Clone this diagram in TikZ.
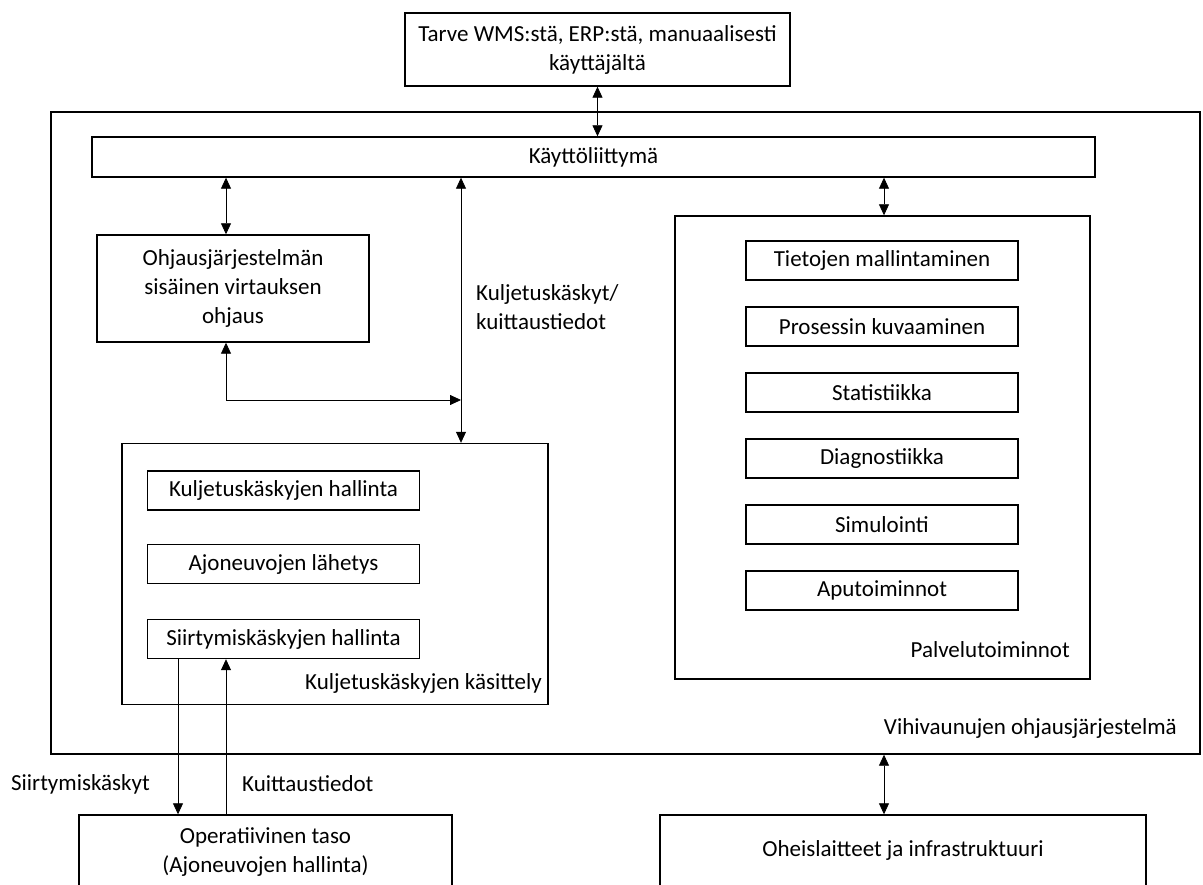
\documentclass[tikz,border=0pt]{standalone}
\usepackage{fontspec}
\setmainfont{Carlito}
\usetikzlibrary{arrows.meta}

\begin{document}
\begin{tikzpicture}[
    x=1pt, y=-1pt,
    font=\fontsize{23}{29}\selectfont,
    box/.style={draw, line width=1.4pt, inner sep=0pt, align=center},
    subbox/.style={box, minimum width=272pt, minimum height=39pt},
    tag/.style={draw=none, inner sep=0pt},
    link/.style={{Triangle[length=11pt,width=10pt]}-{Triangle[length=11pt,width=10pt]}, line width=0.8pt},
    onelink/.style={-{Triangle[length=11pt,width=10pt]}, line width=0.8pt}
]
\clip (0,0) rectangle (1203,885);
%% Outer system and top level
\node[box, minimum width=1149pt, minimum height=642pt] (sys) at (625.5, 433) {};
\node[box, minimum width=385pt, minimum height=73pt] (need) at (597.5, 49.5)
    {Tarve WMS:stä, ERP:stä, manuaalisesti\\käyttäjältä};
\node[box, minimum width=1003pt, minimum height=40pt] (ui) at (593.5, 157) {Käyttöliittymä};
% --- Flow control box ---
\node[box, minimum width=272pt, minimum height=107pt] (flow) at (233, 288.5)
    {Ohjausjärjestelmän\\sisäinen virtauksen\\ohjaus};
% --- Command handling group ---
\node[box, minimum width=426pt, minimum height=261pt] (cmd) at (335, 574) {};
\foreach \n/\y/\txt in {cmdA/490.5/Kuljetuskäskyjen hallinta, cmdB/564/Ajoneuvojen lähetys, cmdC/639/Siirtymiskäskyjen hallinta} {
    \node[subbox] (\n) at (283.5, \y) {\txt};
}
\node[tag, anchor=east] (cmdlbl) at (542, 683) {Kuljetuskäskyjen käsittely};
% --- Service group ---
\node[box, minimum width=415pt, minimum height=463pt] (serv) at (882.5, 447.5) {};
\foreach \n/\y/\txt in {servA/260.5/Tietojen mallintaminen, servB/326.5/Prosessin kuvaaminen, servC/392.5/Statistiikka, servD/458.5/Diagnostiikka, servE/524.5/Simulointi, servF/590.5/Aputoiminnot} {
    \node[subbox] (\n) at (882, \y) {\txt};
}
\node[tag, anchor=east] (servlbl) at (1070, 650) {Palvelutoiminnot};
\node[tag, anchor=east] (syslbl) at (1177, 728) {Vihivaunujen ohjausjärjestelmä};
% --- Bottom boxes ---
\node[box, minimum width=373pt, minimum height=85pt] (op) at (265.5, 857.5) {};
\node[tag, align=center] (optxt) at (265.5, 852) {Operatiivinen taso\\(Ajoneuvojen hallinta)};
\node[box, minimum width=486pt, minimum height=85pt] (periph) at (903, 857.5) {};
\node[tag] (periphtxt) at (903, 850) {Oheislaitteet ja infrastruktuuri};
% --- Labels ---
\node[tag, anchor=west, align=left] (kulbl) at (476, 307) {Kuljetuskäskyt/\\kuittaustiedot};
\node[tag, anchor=east] (downlbl) at (150, 784) {Siirtymiskäskyt};
\node[tag, anchor=west] (uplbl) at (242, 784) {Kuittaustiedot};
% --- Connector columns ---
\coordinate (fx) at (226, 0);
\coordinate (kx) at (461, 0);
\coordinate (sx) at (884, 0);
\coordinate (dx) at (178, 0);
\coordinate (joint) at (461, 400);
% --- Arrows ---
\draw[link] (need.south) -- (need.south |- ui.north);
\draw[link] (fx |- ui.south) -- (fx |- flow.north);
\draw[link] (kx |- ui.south) -- (kx |- cmd.north);
\draw[link] (fx |- flow.south) |- (joint);
\draw[link] (sx |- ui.south) -- (sx |- serv.north);
\draw[link] (sx |- sys.south) -- (sx |- periph.north);
\draw[onelink] (dx |- cmdC.south) -- (dx |- op.north);
\draw[onelink] (fx |- op.north) -- (fx |- cmdC.south);
\end{tikzpicture}
\end{document}
